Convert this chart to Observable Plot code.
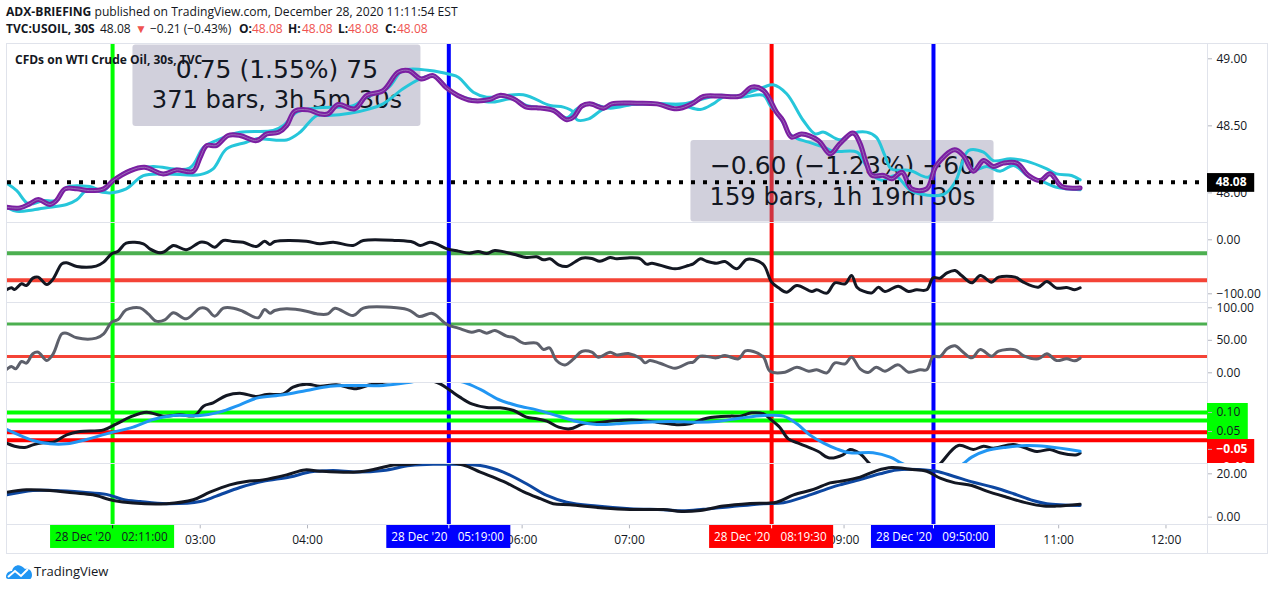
<!DOCTYPE html>
<html><head><meta charset="utf-8">
<script src="https://cdn.jsdelivr.net/npm/d3@7"></script>
<script src="https://cdn.jsdelivr.net/npm/@observablehq/plot@0.6"></script>
<style>
html,body{margin:0;padding:0;background:#fff;}
#page{position:relative;width:1274px;height:590px;overflow:hidden;font-family:"Open Sans",sans-serif;color:#131722;}
.h{position:absolute;white-space:pre;font-size:12px;line-height:16px;}
.b{font-weight:700}.r{color:#ef5350}
.fr{position:absolute;background:#e0e3eb;}
</style></head><body><div id="page">
<div class="h" style="left:6px;top:4px;font-size:12.1px"><span class="b">ADX-BRIEFING</span> published on TradingView.com, December 28, 2020 11:11:54 EST</div>
<div class="h b" style="left:6px;top:21px">TVC:USOIL, 30S</div>
<div class="h" style="left:100px;top:21px">48.08</div>
<div class="h r" style="left:135px;top:21px;font-size:12px">▼</div>
<div class="h" style="left:150px;top:21px">−0.21 (−0.43%)</div>
<div class="h b" style="left:239px;top:21px">O:</div><div class="h r" style="left:252px;top:21px">48.08</div>
<div class="h b" style="left:288px;top:21px">H:</div><div class="h r" style="left:302px;top:21px">48.08</div>
<div class="h b" style="left:338px;top:21px">L:</div><div class="h r" style="left:348px;top:21px">48.08</div>
<div class="h b" style="left:385px;top:21px">C:</div><div class="h r" style="left:397px;top:21px">48.08</div>
<svg style="position:absolute;left:6px;top:563px" width="27" height="17" viewBox="0 0 27 17"><path fill="#2196f3" d="M0 14 C0 10 3 8 6 8 C7 3 12 1 15 3 C17 4 18 5 19 6 C23 5 26 8 26 12 C26 14 25 16 24 16 L2 16 C1 16 0 15 0 14Z"/><path fill="none" stroke="#fff" stroke-width="2" d="M2 14 L9 8 L15 13 L22 6"/></svg>
<div class="h" style="left:34px;top:563px;font-size:13px">TradingView</div>
</div>
<script>
// ---- time markers (hours of 28 Dec 2020)
const hourTicks=[3,4,6,7,9,11,12];
const markerHours=[2+11/60,5+19/60,8+19.5/60,9+50/60];
const markerTimes=["02:11:00","05:19:00","08:19:30","09:50:00"];
const markerColors=["#00ff00","#0000ff","#ff0000","#0000ff"];
const markerText=["#131722","#ffffff","#ffffff","#ffffff"];

// ---- price pane
const lastPrice=48.08;
const purpleH=[1.195,1.32,1.41,1.49,1.60,1.66,1.74,1.85,1.97,2.10,2.19,2.35,2.48,2.655,2.78,2.935,3.0,3.06,3.15,3.26,3.37,3.525,3.62,3.73,3.805,3.88,4.005,4.115,4.19,4.285,4.44,4.55,4.705,4.845,4.94,5.06,5.17,5.295,5.40,5.53,5.70,5.79,5.92,6.04,6.135,6.29,6.415,6.48,6.555,6.63,6.76,6.835,7.07,7.255,7.44,7.58,7.69,7.845,8.03,8.14,8.25,8.37,8.43,8.51,8.605,8.76,8.87,8.96,9.07,9.10,9.15,9.21,9.26,9.37,9.445,9.54,9.63,9.77,9.86,10.03,10.11,10.205,10.30,10.39,10.485,10.61,10.72,10.83,10.92,11.03,11.20];
const purpleV=[47.893,47.888,47.918,47.950,47.913,47.943,48.030,48.030,48.017,48.030,48.092,48.166,48.191,48.141,48.171,48.161,48.266,48.353,48.353,48.428,48.428,48.390,48.440,48.452,48.502,48.609,48.619,48.589,48.589,48.659,48.627,48.726,48.763,48.900,48.913,48.850,48.875,48.783,48.727,48.689,48.697,48.727,48.702,48.640,48.635,48.615,48.545,48.565,48.647,48.664,48.632,48.664,48.669,48.664,48.627,48.664,48.719,48.722,48.722,48.789,48.764,48.602,48.540,48.416,48.440,48.391,48.291,48.366,48.445,48.440,48.366,48.217,48.130,48.130,48.105,48.154,48.030,48.030,48.204,48.321,48.279,48.162,48.241,48.197,48.222,48.222,48.130,48.092,48.142,48.047,48.037];
const cyanAH=[1.195,1.29,1.40,1.54,1.65,1.755,1.97,2.10,2.205,2.375,2.56,2.90,3.03,3.15,3.37,3.68,3.775,3.90,4.085,4.425,4.55,4.75,4.89,5.14,5.33,5.405,5.545,5.67,6.01,6.26,6.385,6.48,6.51,6.62,6.76,6.88,7.315,7.50,7.66,7.78,7.875,8.03,8.25,8.34,8.465,8.62,8.73,8.81,8.96,9.085,9.21,9.30,9.38,9.44,9.615,9.785,9.86,10.02,10.11,10.205,10.33,10.455,10.58,10.73,10.86,10.98,11.20];
const cyanAV=[48.072,48.017,47.918,47.943,47.943,48.042,48.047,48.017,48.104,48.179,48.196,48.184,48.340,48.390,48.452,48.465,48.502,48.602,48.634,48.651,48.714,48.783,48.913,48.913,48.883,48.863,48.751,48.714,48.732,48.652,48.640,48.602,48.545,48.552,48.627,48.647,48.664,48.652,48.622,48.664,48.714,48.727,48.789,48.806,48.739,48.540,48.440,48.453,48.396,48.445,48.453,48.416,48.279,48.179,48.167,48.117,48.204,48.321,48.279,48.172,48.197,48.162,48.204,48.117,48.080,48.042,48.023];
const cyanBH=[1.195,1.29,1.44,1.60,1.755,1.85,1.94,2.16,2.31,2.47,2.685,3.0,3.12,3.245,3.43,3.525,3.805,3.93,4.085,4.19,4.395,4.58,4.705,4.89,5.05,5.17,5.295,5.33,5.45,5.545,5.73,5.92,6.04,6.29,6.415,6.51,6.63,6.82,7.07,7.50,7.69,7.845,8.045,8.25,8.31,8.40,8.51,8.67,8.81,8.90,8.96,9.12,9.195,9.27,9.365,9.475,9.63,9.925,10.035,10.16,10.30,10.39,10.55,10.70,10.89,10.98,11.12,11.20];
const cyanBV=[47.893,47.863,47.873,47.893,47.913,47.948,48.017,48.0,48.03,48.129,48.141,48.136,48.179,48.328,48.378,48.403,48.395,48.452,48.577,48.577,48.594,48.627,48.664,48.776,48.85,48.875,48.79,48.764,48.714,48.694,48.677,48.702,48.652,48.62,48.56,48.627,48.664,48.632,48.664,48.664,48.702,48.727,48.714,48.727,48.652,48.565,48.428,48.378,48.341,48.309,48.309,48.304,48.217,48.13,48.092,48.13,48.013,47.988,48.08,48.316,48.304,48.241,48.254,48.237,48.179,48.142,48.13,48.097];

// ---- measure boxes
const boxHours=[[2.373,5.057],[7.573,10.398]];
const boxPrices=[[49.103,48.495],[48.39,47.782]];
const boxLine1=["0.75 (1.55%) 75","−0.60 (−1.23%) −60"];
const boxLine2=["371 bars, 3h 5m 30s","159 bars, 1h 19m 30s"];
const boxTextHour=[3.715,8.985];
const boxLine1Price=[48.916,48.204];
const boxLine2Price=[48.689,47.965];

// ---- oscillator 1 (black, −100..0)
const osc1H=[1.195,1.24,1.27,1.335,1.38,1.44,1.49,1.57,1.63,1.71,1.755,1.85,2.03,2.10,2.175,2.235,2.31,2.47,2.53,2.625,2.67,2.75,2.87,3.0,3.06,3.135,3.215,3.31,3.40,3.525,3.60,3.65,3.695,3.99,4.115,4.24,4.425,4.52,4.83,4.985,5.05,5.14,5.20,5.30,5.405,5.51,5.59,5.67,5.745,5.92,6.04,6.135,6.20,6.26,6.34,6.415,6.555,6.65,6.725,6.82,6.88,7.005,7.10,7.16,7.21,7.425,7.55,7.595,7.66,7.72,7.81,7.89,8.0,8.09,8.155,8.25,8.325,8.39,8.465,8.56,8.70,8.745,8.84,8.915,9.01,9.07,9.12,9.18,9.26,9.32,9.38,9.505,9.60,9.675,9.77,9.83,9.895,9.96,10.035,10.095,10.19,10.27,10.375,10.44,10.595,10.67,10.81,10.89,10.98,11.075,11.15,11.20];
const osc1V=[-92.6,-88.9,-92,-81.5,-84.6,-71,-69.2,-82.8,-72.3,-44.5,-42.6,-49.4,-48.8,-41.4,-26,-21,-6.2,-7.4,-16.7,-24.1,-21.6,-10.5,-18.6,-4.4,-5.6,-13.6,-1.3,-3.1,-4.4,-12.4,-2.5,-8.7,-3.1,-2.5,-7.4,-4.4,-10.5,-1.3,-1.3,-4.4,-10.5,-4.4,-7.4,-16.7,-21,-24.7,-21.6,-25.4,-19.8,-26.6,-32.8,-31.5,-37.1,-35.2,-46.3,-49.4,-34,-34.6,-39.6,-32.8,-35.2,-33.4,-35.2,-45.1,-43.3,-53.8,-47.6,-44.5,-35.2,-39.6,-43.3,-40.2,-53.8,-36.5,-36.5,-46.3,-78.4,-88.9,-97,-84.6,-95.7,-92.6,-98.8,-79.7,-81.5,-66.1,-87.7,-95.1,-98.2,-87.7,-95.7,-85.9,-95.7,-92.6,-92.6,-70.4,-71,-61.2,-56.8,-66.1,-79.7,-66.1,-78.4,-69.2,-69.2,-78.4,-87.7,-77.2,-89.5,-88.3,-92.6,-88.9];
const osc1Levels=[-25,-75];

// ---- oscillator 2 (grey, 0..100)
const osc2H=[1.195,1.24,1.28,1.335,1.38,1.44,1.49,1.57,1.63,1.71,1.755,1.85,2.03,2.10,2.175,2.235,2.31,2.44,2.515,2.59,2.67,2.75,2.87,3.0,3.06,3.135,3.215,3.31,3.40,3.54,3.60,3.65,3.695,3.805,3.99,4.085,4.19,4.255,4.425,4.52,4.83,4.955,5.04,5.155,5.20,5.30,5.405,5.53,5.60,5.67,5.745,5.855,5.92,6.01,6.135,6.20,6.255,6.32,6.40,6.48,6.555,6.65,6.71,6.82,6.88,6.99,7.10,7.145,7.19,7.285,7.425,7.55,7.595,7.66,7.81,7.89,8.015,8.08,8.155,8.25,8.31,8.45,8.56,8.67,8.745,8.84,8.915,9.01,9.07,9.15,9.225,9.30,9.38,9.505,9.60,9.71,9.77,9.83,9.895,9.96,10.035,10.11,10.19,10.27,10.375,10.44,10.595,10.67,10.81,10.89,10.98,11.075,11.15,11.20];
const osc2V=[5.1,9.7,6.1,17.4,14.8,29.2,31.7,18.9,29.2,59.9,61,53.8,53.3,59.9,77.9,82,96.9,99.9,90.7,79.4,81.5,92.2,83,99.4,98.4,87.1,99.4,99.4,94.3,84.6,97.4,91.7,95.8,98.4,94.8,90.7,90.7,99.4,88.1,99.4,99.9,95.8,86.6,91.7,88.1,74.3,68.7,62.5,65.1,61,65.1,56.4,54.3,45.6,45.6,35.8,38.4,18.9,12.2,21.5,32.8,31.7,24,31.7,27.6,29.7,22.5,15.3,18.9,14.8,7.1,15.3,16.4,25.6,23,26.6,21.5,33.8,32.8,24,2.5,1,8.7,2.5,4.6,0,15.3,13.8,24,6.1,0.5,8.7,2.5,12.2,1,4.6,4.6,25,25,36.9,41.5,31.7,23,35.8,25.6,33.3,35.3,26.6,21.5,29.2,18.9,21.5,18.4,22.5];
const osc2Levels=[75,25];

// ---- oscillator 3 (MACD-like)
const macdH=[1.195,1.27,1.365,1.44,1.535,1.63,1.755,1.88,2.10,2.22,2.345,2.50,2.655,2.81,2.95,3.03,3.12,3.245,3.37,3.525,3.62,3.775,3.865,3.99,4.115,4.27,4.455,4.58,4.77,5.05,5.235,5.33,5.42,5.53,5.67,5.795,5.92,6.04,6.135,6.23,6.34,6.445,6.57,6.695,6.85,7.07,7.255,7.44,7.565,7.72,7.94,8.03,8.14,8.25,8.31,8.40,8.48,8.59,8.76,8.855,8.99,9.055,9.15,9.24,9.35,9.6,9.8,9.895,10.065,10.205,10.30,10.39,10.58,10.795,10.92,11.01,11.17,11.20];
const macdV=[.0193,.0114,.0079,.0149,.0202,.0220,.0413,.0500,.0544,.0702,.0877,.1009,.0904,.0939,.0921,.1167,.1255,.1448,.1509,.1421,.1474,.1491,.1667,.1746,.1693,.1728,.1623,.1728,.1816,.1895,.1755,.1579,.1404,.1228,.1132,.1123,.1053,.0877,.0833,.0772,.0614,.057,.0702,.0728,.0781,.0798,.0746,.0676,.0702,.0851,.0904,.0904,.0991,.0965,.0833,.0614,.0307,.0176,-.0026,-.0193,-.0114,.0027,-.0087,-.0351,-.06,-.08,-.06,-.0351,.0132,.0027,.0114,.0062,.0158,-.0026,.0027,-.0061,-.0114,-.007];
const signalH=[1.195,1.32,1.44,1.60,1.755,1.94,2.16,2.375,2.56,2.75,3.0,3.18,3.37,3.525,3.775,3.99,4.21,4.425,4.705,4.955,5.17,5.45,5.61,5.78,5.95,6.135,6.32,6.51,6.695,6.88,7.13,7.38,7.63,7.81,8.03,8.25,8.435,8.56,8.68,8.81,8.93,9.055,9.27,9.43,9.55,9.8,10.0,10.11,10.19,10.33,10.515,10.70,10.89,11.20];
const signalV=[.0553,.0395,.0263,.0176,.0176,.0290,.0465,.0614,.0816,.0921,.0921,.1009,.1202,.1377,.1465,.1579,.1693,.1711,.1711,.1798,.19,.1798,.1606,.1342,.1184,.107,.0921,.0763,.0685,.0702,.0746,.0763,.0746,.0763,.0851,.0921,.0904,.0702,.0412,.0193,.0044,-.0061,-.0061,-.0175,-.0351,-.06,-.055,-.0351,-.0175,.0,.0088,.0132,.0105,-.0017];
const macdGreen=[0.10,0.079];
const macdRed=[0.048,0.027];

// ---- ADX-like pane
const adxH=[1.195,1.38,1.60,1.815,2.0,2.19,2.375,2.685,2.935,3.09,3.275,3.43,3.585,3.805,3.975,4.115,4.455,4.645,4.80,4.955,5.17,5.45,5.61,5.825,6.01,6.17,6.29,6.445,6.755,7.005,7.315,7.485,7.66,7.875,8.125,8.37,8.53,8.715,8.87,8.96,9.15,9.305,9.445,9.615,9.77,9.895,10.035,10.19,10.33,10.515,10.70,10.86,10.98,11.20];
const adxV=[11.5,12.6,12.3,11.2,10.3,7.7,6.5,6.2,8,11.5,14.9,16.5,17.2,19.5,21.8,21.2,20.8,22.3,24.1,24.4,25.7,24.1,20.8,16.5,11.8,8.5,6.2,5.7,4.2,3.5,3.5,2.6,3.1,5.1,6.3,6.9,10.3,12.8,15.8,16.5,18.5,21.5,22.9,22.1,21.2,18,15.8,14.6,12,9.2,6.6,5.1,5.1,6];
const adxSigH=[1.195,1.44,1.63,1.91,2.125,2.28,2.44,2.685,3.0,3.15,3.37,3.585,3.835,4.02,4.24,4.455,4.705,4.955,5.17,5.61,5.825,6.04,6.23,6.415,6.695,7.005,7.315,7.50,7.69,7.94,8.25,8.435,8.65,8.87,8.96,9.15,9.335,9.49,9.675,9.86,10.02,10.205,10.39,10.58,10.76,10.89,11.20];
const adxSigV=[10.3,12.3,12.3,11.5,10.5,8.2,7.2,6.2,7.2,9.7,13.7,16.5,18.5,20.8,21.5,20.8,21.5,23.8,24.4,23.8,20.8,15.4,10,6.9,5.1,3.9,3.4,2.9,3.6,4.8,6.2,6.6,9.7,13.5,14.9,17.4,20,21.8,22,21.2,18.9,16.1,13.8,10.8,7.7,6.2,5.4];

// ---- layout and drawing
const page=document.getElementById("page");
const font='"Open Sans",sans-serif';
const xDomain=[1.204,12.387];
function pane(top,bottom,yDomain,marks,extra={}){
  const svg=Plot.plot({
    width:1274,height:bottom-top,
    marginLeft:7,marginRight:67,marginTop:0,marginBottom:0,
    x:{domain:xDomain,axis:null},
    y:{domain:yDomain,axis:null},
    style:{position:"absolute",left:"0",top:top+"px",background:"transparent",fontFamily:font,fontSize:"12px",color:"#131722",...extra},
    marks
  });
  page.appendChild(svg);
}
const vline=(i,o={})=>Plot.ruleX([markerHours[i]],{x:d=>d,stroke:markerColors[i],strokeWidth:4,clip:true,...o});
const vlines=()=>markerHours.map((_,i)=>vline(i));
const fmt2=d3.format(".2f");
const yAxis=(ticks,o={})=>Plot.axisY({anchor:"right",ticks,tickSize:4,tickPadding:5,tickFormat:fmt2,label:null,stroke:"#b2b5be",fill:"#131722",textAnchor:"start",...o});
const trace=(xs,ys,stroke,strokeWidth=3)=>Plot.line(ys,{x:xs,y:ys,stroke,strokeWidth,curve:"catmull-rom",clip:true});
const tagX2=h=>xDomain[1]+h;

// frame
[[6,43,1261,1],[6,222,1201,1],[6,302,1201,1],[6,382,1201,1],[6,463,1201,1],[6,524,1261,1],[6,553,1261,1],[6,43,1,511],[1207,43,1,511],[1267,43,1,511]].forEach(([l,t,w,h])=>{
  const d=document.createElement("div");d.className="fr";
  d.style.cssText=`left:${l}px;top:${t}px;width:${w}px;height:${h}px`;page.appendChild(d);
});

// price pane
pane(44,222,[47.7791,49.1067],[
  yAxis([49,48.5,48]),
  vline(2),
  Plot.rect([0,1],{x1:i=>boxHours[i][0],x2:i=>boxHours[i][1],y1:i=>boxPrices[i][0],y2:i=>boxPrices[i][1],fill:"#8683a3",fillOpacity:.38,rx:3}),
  vline(0),vline(1),vline(3),
  Plot.text(boxLine1,{x:boxTextHour,y:boxLine1Price,text:d=>d,fontFamily:"DejaVu Sans",fontSize:25,fill:"#131722"}),
  Plot.text(boxLine2,{x:boxTextHour,y:boxLine2Price,text:d=>d,fontFamily:"DejaVu Sans",fontSize:24.2,fill:"#131722"}),
  trace(cyanAH,cyanAV,"#26c6da"),
  trace(cyanBH,cyanBV,"#26c6da"),
  trace(purpleH,purpleV,"#7b1fa2",5),
  trace(purpleH,purpleV,"#9a6cb8",1),
  Plot.ruleY([lastPrice],{y:d=>d,stroke:"#000",strokeWidth:4,strokeDasharray:"4,8"}),
  Plot.rect([lastPrice],{x1:xDomain[1],x2:tagX2(.44),y1:d=>d+.064,y2:d=>d-.076,fill:"#000"}),
  Plot.text([lastPrice],{x:tagX2(.22),y:d=>d,text:fmt2,fill:"#fff",fontWeight:"bold",fontSize:12})
]);
page.insertAdjacentHTML("beforeend",'<div class="h b" style="left:15px;top:52px;font-size:12px">CFDs on WTI Crude Oil, 30s, TVC</div>');

// oscillator 1
pane(223,302,[-116.1,30.2],[
  yAxis([0,-100]),
  Plot.ruleY([osc1Levels[0]],{y:d=>d,stroke:"#4caf50",strokeWidth:4}),
  Plot.ruleY([osc1Levels[1]],{y:d=>d,stroke:"#f44336",strokeWidth:4}),
  ...vlines(),
  trace(osc1H,osc1V,"#131722")
]);
// oscillator 2
pane(303,382,[-14.9,106.6],[
  yAxis([100,50,0]),
  Plot.ruleY([osc2Levels[0]],{y:d=>d,stroke:"#4caf50",strokeWidth:3}),
  Plot.ruleY([osc2Levels[1]],{y:d=>d,stroke:"#f44336",strokeWidth:3}),
  ...vlines(),
  trace(osc2H,osc2V,"#5d606b")
]);
// MACD pane
pane(383,463,[-.0342,.1763],[
  ...vlines(),
  Plot.rect([0],{x1:xDomain[1],x2:tagX2(.38),y1:.1237,y2:.0289,fill:"#00ff00"}),
  Plot.rect([0],{x1:xDomain[1],x2:tagX2(.44),y1:.0289,y2:-.0342,fill:"#ff0000"}),
  Plot.ruleY(macdGreen,{y:d=>d,stroke:"#00ff00",strokeWidth:4}),
  Plot.ruleY(macdRed,{y:d=>d,stroke:"#ff0000",strokeWidth:4}),
  yAxis([.10,.05]),
  yAxis([.003],{tickFormat:()=>"−0.05",fill:"#fff",fontWeight:"bold"}),
  yAxis([-.0434],{tickFormat:()=>"−0.10",fill:"#fff",fontWeight:"bold"}),
  trace(macdH,macdV,"#131722"),
  trace(signalH,signalV,"#2196f3")
],{overflow:"hidden"});
// ADX pane
pane(464,524,[-3.4,24.3],[
  yAxis([20,0]),
  ...vlines(),
  trace(adxSigH,adxSigV,"#0d47a1",3),
  trace(adxH,adxV,"#131722")
]);
// time axis
const tagHalf=.578;
pane(525,553,[0,1],[
  Plot.ruleX(hourTicks,{x:d=>d,y1:1,y2:.88,stroke:"#b2b5be"}),
  Plot.text(hourTicks,{x:d=>d,y:.49,text:d=>String(d).padStart(2,"0")+":00",fill:"#131722",fontSize:12}),
  Plot.rect(markerHours,{x1:d=>d-tagHalf,x2:d=>d+tagHalf,y1:1,y2:.18,fill:(d,i)=>markerColors[i]}),
  Plot.ruleX(markerHours,{x:d=>d,y1:1,y2:.88,stroke:(d,i)=>markerText[i]}),
  Plot.text(markerHours,{x:d=>d-.275,y:.58,text:()=>"28 Dec '20",fill:(d,i)=>markerText[i],fontSize:11.7}),
  Plot.text(markerHours,{x:d=>d+.298,y:.58,text:(d,i)=>markerTimes[i],fill:(d,i)=>markerText[i],fontSize:11.7})
]);
</script></body></html>
